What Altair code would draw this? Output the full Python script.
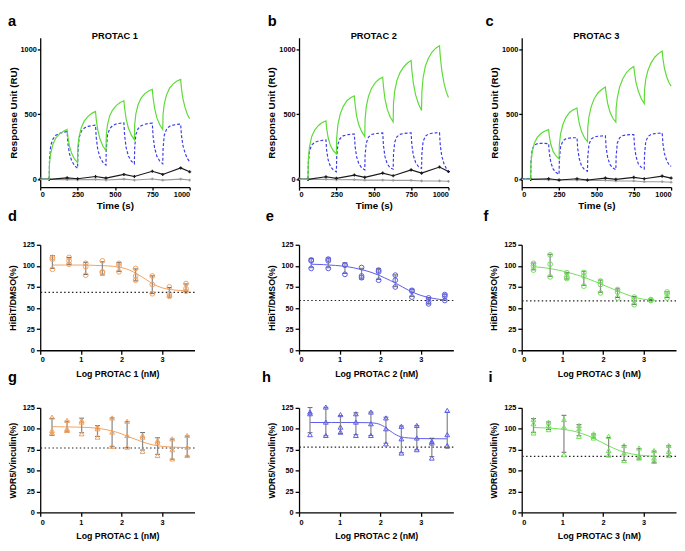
import altair as alt
import pandas as pd

FONT = "Liberation Sans"

# ---------------- SPR sensorgrams (panels a-c) ----------------
spr_time = [0, 60, 62, 70, 85, 105, 130, 155, 180, 185, 195, 210, 230, 250,
            252, 260, 275, 295, 320, 345, 370, 375, 385, 400, 420, 440,
            442, 450, 465, 485, 510, 535, 560, 565, 575, 590, 610, 630,
            632, 640, 655, 675, 700, 725, 750, 755, 765, 780, 800, 820,
            822, 830, 845, 865, 890, 915, 940, 945, 955, 970, 985, 1000]

green_a = [0, 0, 120, 200, 270, 320, 350, 370, 384, 330, 260, 200, 155, 128,
           250, 330, 400, 450, 485, 508, 523, 460, 380, 310, 255, 221,
           340, 420, 490, 535, 570, 592, 605, 545, 465, 395, 340, 304,
           420, 505, 575, 625, 660, 680, 693, 630, 550, 475, 420, 384,
           500, 580, 650, 700, 735, 757, 769, 700, 620, 550, 500, 467]
blue_a = [0, 0, 150, 260, 310, 340, 355, 362, 367, 280, 200, 145, 105, 85,
          200, 320, 370, 395, 408, 414, 417, 320, 230, 170, 130, 110,
          230, 340, 390, 415, 427, 432, 435, 335, 245, 180, 140, 120,
          240, 345, 390, 412, 424, 430, 432, 335, 245, 180, 140, 120,
          235, 340, 385, 408, 418, 423, 425, 340, 260, 200, 160, 136]
green_b = [0, 0, 150, 250, 330, 380, 415, 438, 450, 390, 320, 260, 220, 196,
           320, 420, 500, 560, 605, 628, 643, 580, 490, 420, 365, 329,
           460, 560, 640, 700, 745, 770, 786, 715, 620, 540, 480, 442,
           580, 680, 760, 820, 865, 895, 915, 840, 740, 650, 580, 530,
           670, 780, 870, 930, 980, 1010, 1028, 950, 840, 740, 675, 630]
blue_b = [0, 0, 120, 220, 265, 285, 295, 300, 304, 220, 150, 100, 72, 58,
          170, 270, 315, 335, 343, 347, 349, 255, 175, 120, 88, 73,
          185, 280, 325, 345, 352, 355, 357, 260, 175, 120, 88, 78,
          190, 285, 328, 346, 353, 356, 358, 265, 185, 130, 96, 85,
          195, 290, 332, 348, 355, 358, 360, 265, 180, 120, 85, 65]
green_c = [0, 0, 130, 210, 280, 325, 355, 372, 383, 330, 270, 215, 180, 158,
           270, 350, 420, 475, 515, 535, 549, 500, 430, 370, 320, 290,
           400, 480, 560, 620, 665, 692, 710, 660, 585, 520, 470, 441,
           550, 630, 710, 770, 820, 850, 869, 820, 745, 680, 620, 584,
           690, 770, 840, 895, 940, 968, 987, 930, 855, 790, 745, 718]
blue_c = [5, 5, 140, 230, 265, 275, 278, 277, 275, 200, 130, 80, 52, 38,
          150, 250, 295, 312, 318, 320, 320, 235, 160, 105, 75, 63,
          170, 270, 310, 326, 332, 334, 335, 245, 170, 115, 88, 75,
          180, 280, 320, 336, 342, 344, 345, 255, 175, 120, 92, 80,
          190, 290, 330, 346, 352, 355, 357, 275, 200, 145, 115, 100]

ref_time = [0, 60, 180, 250, 370, 440, 560, 630, 750, 820, 940, 1000]
black_a = [0, 0, 12, 5, 22, 10, 38, 22, 62, 38, 88, 58]
gray_a = [5, 0, -2, -3, 0, -5, 2, -5, 3, -6, 2, -5]
black_b = [0, 0, 20, 8, 33, 15, 48, 28, 73, 48, 95, 60]
gray_b = [5, 0, 0, -3, -2, -6, -5, -8, -8, -12, -12, -15]
black_c = [0, 0, 5, -5, 5, -5, 10, 0, 15, 5, 25, 10]
gray_c = [3, 0, -3, -5, -5, -8, -8, -12, -12, -18, -18, -22]

spr_titles = ["PROTAC 1", "PROTAC 2", "PROTAC 3"]

# ---------------- Dose-response (panels d-i) ----------------
d_x = [0.30, 0.71, 1.12, 1.53, 1.94, 2.35, 2.76, 3.18, 3.59]
d_r1 = [110, 110, 103, 106, 103, 97, 88, 75, 79]
d_r2 = [108, 106, 99, 93, 100, 88, 78, 67, 73]
d_r3 = [96, 102, 89, 92, 93, 83, 67, 64, 70]
d_fit_x = [0.3, 0.6, 1.0, 1.4, 1.8, 2.0, 2.2, 2.4, 2.6, 2.8, 3.0, 3.2, 3.4, 3.6]
d_fit_y = [101, 101, 101, 100.5, 99.5, 98, 95, 90, 84, 78, 74, 72, 71, 70.5]

e_x = [0.30, 0.72, 1.13, 1.54, 1.96, 2.37, 2.78, 3.19, 3.59]
e_r1 = [107, 108, 101, 98, 95, 89, 71, 62, 66]
e_r2 = [106, 106, 101, 88, 93, 83, 70, 58, 64]
e_r3 = [97, 97, 90, 86, 83, 75, 63, 55, 59]
e_fit_x = [0.3, 0.6, 0.9, 1.2, 1.5, 1.8, 2.1, 2.4, 2.7, 3.0, 3.3, 3.6]
e_fit_y = [102, 101.5, 100.5, 99, 96, 92, 86, 79, 71, 65, 61.5, 59.5]

f_x = [0.29, 0.70, 1.11, 1.53, 1.94, 2.36, 2.77, 3.18, 3.58]
f_r1 = [103, 113, 92, 92, 82, 72, 63, 60, 69]
f_r2 = [100, 102, 87, 88, 78, 69, 60, 59.5, 67]
f_r3 = [95, 87, 85, 76, 68, 62, 54, 59, 62]
f_fit_x = [0.3, 0.6, 0.9, 1.2, 1.5, 1.8, 2.1, 2.4, 2.7, 3.0, 3.3]
f_fit_y = [99, 97.5, 95, 91.5, 87, 81.5, 75.5, 69.5, 64, 60.5, 59]

g_x = [0.29, 0.66, 1.02, 1.41, 1.77, 2.14, 2.52, 2.89, 3.25, 3.62]
g_r1 = [114, 110, 110, 102, 113, 109, 92, 86, 88, 92]
g_r2 = [98, 100, 108, 100, 96, 92, 90, 84, 75, 78]
g_r3 = [95, 98, 94, 90, 79, 78, 73, 68, 64, 68]
g_fit_x = [0.3, 0.6, 0.9, 1.2, 1.5, 1.8, 2.0, 2.2, 2.4, 2.6, 2.8, 3.0, 3.2, 3.4, 3.62]
g_fit_y = [102.5, 102.3, 102, 101.5, 100, 97, 94, 90, 86.5, 83, 80.5, 79, 78.3, 77.8, 77.5]

h_x = [0.27, 0.66, 1.02, 1.40, 1.77, 2.14, 2.52, 2.90, 3.27, 3.65]
h_r1 = [120, 126, 117, 118, 120, 113, 103, 104, 85, 122]
h_r2 = [118, 108, 102, 108, 106, 100, 88, 89, 83, 93]
h_r3 = [93, 92, 96, 92, 92, 82, 71, 75, 65, 80]
h_fit_x = [0.27, 0.8, 1.3, 1.7, 1.9, 2.0, 2.1, 2.2, 2.3, 2.4, 2.5, 2.7, 3.0, 3.3, 3.65]
h_fit_y = [107.5, 107.5, 107.5, 107.3, 106.5, 105, 102.5, 99, 95.5, 92.5, 90.5, 89, 88.3, 88.1, 88]

i_x = [0.29, 0.66, 1.04, 1.41, 1.77, 2.14, 2.52, 2.89, 3.26, 3.62]
i_r1 = [111, 108, 111, 104, 94, 91, 80, 77, 74, 80]
i_r2 = [106, 104, 102, 100, 91, 74, 71, 68, 65, 73]
i_r3 = [95, 99, 69, 91, 89, 69, 62, 65, 61, 68]
i_fit_x = [0.29, 0.6, 0.9, 1.2, 1.5, 1.8, 2.1, 2.4, 2.7, 3.0, 3.3]
i_fit_y = [101.5, 101, 100, 98, 94, 88, 80.5, 74, 70, 68, 67]

bottoms = {"d": 68.5, "e": 59, "f": 58.5, "g": 77, "h": 78, "i": 67}

ORANGE = "#F3A15C"
VIOLET = "#5A5AEC"
LGREEN = "#6EE055"
SPR_GREEN = "#5CDB36"
SPR_BLUE = "#3B3BEB"

W1, H1 = 153, 153
W2, H2, H3 = 158, 108, 107
LBL = 7.5


def letter_layer(letter, dx, dy):
    return alt.Chart(pd.DataFrame({"s": [letter]})).mark_text(
        font=FONT, fontSize=15, fontWeight="bold", align="left",
        baseline="top", color="black"
    ).encode(text="s:N", x=alt.value(dx), y=alt.value(dy))


def spr_panel(green, blue, black, gray, title, letter, ldx):
    xenc = alt.X("t:Q", scale=alt.Scale(domain=[0, 1000], nice=False),
                 axis=alt.Axis(values=[0, 250, 500, 750, 1000], format="d", title="Time (s)",
                               tickSize=3, labelPadding=1, titlePadding=2,
                               labelFontSize=LBL, titleFontSize=10))
    yenc = alt.Y("v:Q", scale=alt.Scale(domain=[-60, 1090], nice=False),
                 axis=alt.Axis(values=[0, 500, 1000], format="d", title="Response Unit (RU)",
                               tickSize=3, labelPadding=1, titlePadding=2,
                               labelFontSize=LBL, titleFontSize=10))
    dg = pd.DataFrame({"t": spr_time, "v": green})
    db = pd.DataFrame({"t": spr_time, "v": blue})
    dk = pd.DataFrame({"t": ref_time, "v": black})
    dy = pd.DataFrame({"t": ref_time, "v": gray})
    lg = alt.Chart(dg).mark_line(color=SPR_GREEN, strokeWidth=1.2).encode(x=xenc, y=yenc)
    lb = alt.Chart(db).mark_line(color=SPR_BLUE, strokeWidth=1.2, strokeDash=[3, 2]).encode(x=xenc, y=yenc)
    ly = alt.Chart(dy).mark_line(color="#9a9a9a", strokeWidth=1.1,
                                 point=alt.OverlayMarkDef(shape="cross", size=8, filled=True, color="#9a9a9a")
                                 ).encode(x=xenc, y=yenc)
    lk = alt.Chart(dk).mark_line(color="#1a1a1a", strokeWidth=1.2,
                                 point=alt.OverlayMarkDef(shape="cross", size=10, filled=True, color="#1a1a1a")
                                 ).encode(x=xenc, y=yenc)
    tt = alt.Chart(pd.DataFrame({"s": [title]})).mark_text(
        font=FONT, fontSize=9.5, fontWeight="bold", align="center", baseline="middle", color="black"
    ).encode(text="s:N", x=alt.value(W1 / 2), y=alt.value(-2))
    return alt.layer(ly, lk, lb, lg, tt, letter_layer(letter, ldx, -24)).properties(width=W1, height=H1)


def dr_panel(xs, r1, r2, r3, fx, fy, bottom, color, shape, ytitle, xtitle, letter, ldx, ldy, h):
    xenc = alt.X("x:Q", scale=alt.Scale(domain=[0, 3.8], nice=False),
                 axis=alt.Axis(values=[0, 1, 2, 3], title=xtitle, tickSize=4, labelPadding=2,
                               titlePadding=6, labelFontSize=LBL, titleFontSize=9))
    yenc = alt.Y("v:Q", scale=alt.Scale(domain=[0, 125], nice=False),
                 axis=alt.Axis(values=[0, 25, 50, 75, 100, 125], title=ytitle, tickSize=4,
                               labelPadding=2, titlePadding=5, labelFontSize=LBL, titleFontSize=9))
    reps = pd.DataFrame({"x": xs * 3, "v": r1 + r2 + r3})
    fit = pd.DataFrame({"x": fx, "v": fy})
    base = pd.DataFrame({"v": [bottom]})
    err = alt.Chart(reps).mark_errorbar(
        extent="stdev", ticks={"color": "#222222", "strokeWidth": 1.2},
        rule={"color": "#8c8c8c", "strokeWidth": 1.3}, size=5
    ).encode(x=xenc, y=yenc)
    pts = alt.Chart(reps).mark_point(shape=shape, filled=False, size=24, strokeWidth=1,
                                     color=color, opacity=1).encode(x=xenc, y=yenc)
    crv = alt.Chart(fit).mark_line(color=color, strokeWidth=1, interpolate="monotone").encode(x=xenc, y=yenc)
    dot = alt.Chart(base).mark_rule(color="#222222", strokeWidth=1.2, strokeDash=[1.5, 2.5]).encode(y=yenc)
    return alt.layer(dot, crv, err, pts, letter_layer(letter, ldx, ldy)).properties(width=W2, height=h)


def spacer(w, h):
    return alt.Chart(pd.DataFrame({"a": [0]})).mark_point(opacity=0).encode(
        x=alt.X("a:Q", axis=None), y=alt.Y("a:Q", axis=None)
    ).properties(width=w, height=h)


pa = spr_panel(green_a, blue_a, black_a, gray_a, spr_titles[0], "a", -33)
pb = spr_panel(green_b, blue_b, black_b, gray_b, spr_titles[1], "b", -32)
pc = spr_panel(green_c, blue_c, black_c, gray_c, spr_titles[2], "c", -37)

hib = "HiBiT/DMSO(%)"
wdr = "WDR5/Vinculin(%)"
pd_ = dr_panel(d_x, d_r1, d_r2, d_r3, d_fit_x, d_fit_y, bottoms["d"], ORANGE, "circle", hib, "Log PROTAC 1 (nM)", "d", -33, -36, H2)
pe = dr_panel(e_x, e_r1, e_r2, e_r3, e_fit_x, e_fit_y, bottoms["e"], VIOLET, "circle", hib, "Log PROTAC 2 (nM)", "e", -34, -36, H2)
pf = dr_panel(f_x, f_r1, f_r2, f_r3, f_fit_x, f_fit_y, bottoms["f"], LGREEN, "circle", hib, "Log PROTAC 3 (nM)", "f", -39, -36, H2)
pg = dr_panel(g_x, g_r1, g_r2, g_r3, g_fit_x, g_fit_y, bottoms["g"], ORANGE, "triangle-up", wdr, "Log PROTAC 1 (nM)", "g", -33, -39, H3)
ph = dr_panel(h_x, h_r1, h_r2, h_r3, h_fit_x, h_fit_y, bottoms["h"], VIOLET, "triangle-up", wdr, "Log PROTAC 2 (nM)", "h", -38, -39, H3)
pi = dr_panel(i_x, i_r1, i_r2, i_r3, i_fit_x, i_fit_y, bottoms["i"], LGREEN, "triangle-up", wdr, "Log PROTAC 3 (nM)", "i", -34, -39, H3)

cells = [
    pa, spacer(105, H1), pb, spacer(70, H1), pc,
    pd_, spacer(102, H2), pe, spacer(65, H2), pf,
    pg, spacer(107, H3), ph, spacer(62, H3), pi,
]

chart = alt.concat(*cells, columns=5, spacing={"row": 59, "column": 0},
                   bounds="flush", align="none").properties(
    padding=0, background="white"
).configure_view(stroke=None).configure_axis(
    labelFont=FONT, titleFont=FONT, labelFontWeight="bold", titleFontWeight="bold",
    labelColor="black", titleColor="black", domainColor="black", tickColor="black",
    domainWidth=1.3, tickWidth=1.3, grid=False
)

chart.save("out.html", embed_options={"renderer": "svg", "actions": False})
